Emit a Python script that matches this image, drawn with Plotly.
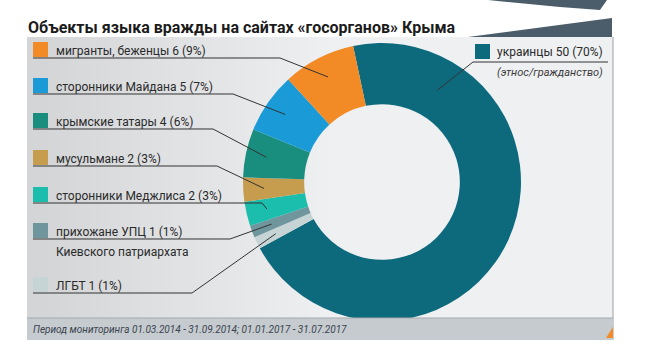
import math
import plotly.graph_objects as go

# ---------------- data ----------------
labels = ["украинцы", "ЛГБТ", "прихожане УПЦ", "сторонники Меджлиса",
          "мусульмане", "крымские татары", "сторонники Майдана", "мигранты, беженцы"]
counts = [50, 1, 1, 2, 2, 4, 5, 6]
percents = [70, 1, 1, 3, 3, 6, 7, 9]
colors = ["#0d6a7d", "#c6d4d6", "#6f959d", "#1bbdac", "#c69c4e",
          "#1a8e7e", "#1a9ad6", "#f28a25"]
extra_lines = {"украинцы": "(этнос/гражданство)", "прихожане УПЦ": "Киевского патриархата"}

title = "Объекты языка вражды на сайтах «госорганов» Крыма"
footer = "Период мониторинга 01.03.2014 - 31.09.2014; 01.01.2017 - 31.07.2017"

# ---------------- layout (pixels) ----------------
W, H = 650, 350
CX, CY, R = 382, 182, 139
HOLE = 0.56
ROT = -12
FONT = "Roboto, Arial, sans-serif"

def X(px):
    return px / W

def Y(py):
    return 1 - py / H

fig = go.Figure()
fig.add_trace(go.Pie(
    labels=labels, values=counts, marker=dict(colors=colors, line=dict(width=0)),
    hole=HOLE, sort=False, direction="clockwise", rotation=ROT,
    textinfo="none", hoverinfo="label+value+percent", showlegend=False,
    domain=dict(x=[X(CX - R), X(CX + R)], y=[Y(CY + R), Y(CY - R)]),
))

shapes = []
annotations = []

# card background with horizontal gradient
c0 = (0xd4, 0xd5, 0xd7)
c1 = (0xee, 0xf0, 0xf2)
card_l, card_r, card_t, card_b = 27, 613, 37, 318
nstrip = 30
grad_end = 340
sw = (grad_end - card_l) / nstrip
for i in range(nstrip):
    t = i / (nstrip - 1)
    col = "rgb(%d,%d,%d)" % tuple(int(c0[k] + (c1[k] - c0[k]) * t) for k in range(3))
    shapes.append(dict(type="rect", xref="paper", yref="paper", layer="below",
                       x0=X(card_l + i * sw), x1=X(card_l + (i + 1) * sw + 1),
                       y0=Y(card_b), y1=Y(card_t), fillcolor=col, line=dict(width=0)))
shapes.append(dict(type="rect", xref="paper", yref="paper", layer="below",
                   x0=X(grad_end), x1=X(card_r), y0=Y(card_b), y1=Y(card_t),
                   fillcolor="rgb(%d,%d,%d)" % c1, line=dict(width=0)))
# right border
shapes.append(dict(type="line", xref="paper", yref="paper", layer="above",
                   x0=X(card_r), x1=X(card_r), y0=Y(340), y1=Y(card_t),
                   line=dict(color="#a9aeb3", width=1.2)))
# footer band
shapes.append(dict(type="rect", xref="paper", yref="paper", layer="above",
                   x0=X(card_l), x1=X(card_r), y0=Y(340), y1=Y(card_b),
                   fillcolor="#c6cbcf", line=dict(width=0)))
shapes.append(dict(type="line", xref="paper", yref="paper", layer="above",
                   x0=X(card_l), x1=X(card_r), y0=Y(card_b), y1=Y(card_b),
                   line=dict(color="#a4a9ae", width=1)))
# small orange corner
shapes.append(dict(type="path", xref="paper", yref="paper", layer="above",
                   path="M %f,%f L %f,%f L %f,%f Z" % (X(606), Y(338), X(613), Y(327), X(613), Y(338)),
                   fillcolor="#f28a25", line=dict(width=0)))
# decorative top wedges
shapes.append(dict(type="path", xref="paper", yref="paper", layer="below",
                   path="M %f,%f L %f,%f L %f,%f L %f,%f Z" % (X(488), Y(0), X(607), Y(0), X(600), Y(10), X(560), Y(7)),
                   fillcolor="#4b5c6a", line=dict(width=0)))
shapes.append(dict(type="path", xref="paper", yref="paper", layer="below",
                   path="M %f,%f L %f,%f L %f,%f Z" % (X(468), Y(37), X(612), Y(18), X(612), Y(37)),
                   fillcolor="#4b5c6a", line=dict(width=0)))

# title and footer
annotations.append(dict(text="<b>%s</b>" % title, x=X(26), y=Y(27), xref="paper", yref="paper",
                        xanchor="left", yanchor="middle", showarrow=False,
                        font=dict(family=FONT, size=16, color="#1b1b1b")))
annotations.append(dict(text="<i>%s</i>" % footer, x=X(31), y=Y(329), xref="paper", yref="paper",
                        xanchor="left", yanchor="middle", showarrow=False,
                        font=dict(family=FONT, size=10, color="#3a4450")))

# slice angles (clockwise from 12 o'clock)
total = sum(counts)
cum = 0
angles = []
for v in counts:
    a0 = ROT + cum * 360 / total
    a1 = ROT + (cum + v) * 360 / total
    angles.append((a0, a1))
    cum += v

# left-hand labels: order from top to bottom, with row y-centres and elbow x
left_order = ["мигранты, беженцы", "сторонники Майдана", "крымские татары", "мусульмане",
              "сторонники Меджлиса", "прихожане УПЦ", "ЛГБТ"]
row_y = [50, 86, 121, 158, 195, 231, 285]
elbow_x = [280, 233, 213, 217, 262, 230, 192]
LEAD_R = 0.85 * R
SQ = 15

for name, ry, ex in zip(left_order, row_y, elbow_x):
    i = labels.index(name)
    a0, a1 = angles[i]
    am = math.radians((a0 + a1) / 2)
    px = CX + LEAD_R * math.sin(am)
    py = CY - LEAD_R * math.cos(am)
    ly = ry + 8
    shapes.append(dict(type="rect", xref="paper", yref="paper", layer="above",
                       x0=X(33), x1=X(33 + SQ), y0=Y(ry - 8 + SQ), y1=Y(ry - 8),
                       fillcolor=colors[i], line=dict(width=0)))
    annotations.append(dict(text="%s %d (%d%%)" % (name, counts[i], percents[i]),
                            x=X(54), y=Y(ry + 1), xref="paper", yref="paper",
                            xanchor="left", yanchor="middle", showarrow=False,
                            font=dict(family=FONT, size=12, color="#2a2a2a")))
    if name in extra_lines:
        annotations.append(dict(text=extra_lines[name], x=X(54), y=Y(ry + 21),
                                xref="paper", yref="paper", xanchor="left", yanchor="middle",
                                showarrow=False, font=dict(family=FONT, size=12, color="#2a2a2a")))
    shapes.append(dict(type="path", xref="paper", yref="paper", layer="above",
                       path="M %f,%f L %f,%f L %f,%f" % (X(33), Y(ly), X(ex), Y(ly), X(px), Y(py)),
                       line=dict(color="#333333", width=1)))

# right-hand label (largest slice)
i = 0
a0, a1 = angles[i]
am = math.radians(a0 + 0.17 * (a1 - a0))
px = CX + 0.77 * R * math.sin(am)
py = CY - 0.77 * R * math.cos(am)
shapes.append(dict(type="rect", xref="paper", yref="paper", layer="above",
                   x0=X(475), x1=X(475 + SQ), y0=Y(44 + SQ), y1=Y(44),
                   fillcolor=colors[i], line=dict(width=0)))
annotations.append(dict(text="%s %d (%d%%)" % (labels[i], counts[i], percents[i]),
                        x=X(495), y=Y(52), xref="paper", yref="paper",
                        xanchor="left", yanchor="middle", showarrow=False,
                        font=dict(family=FONT, size=12, color="#2a2a2a")))
annotations.append(dict(text="<i>%s</i>" % extra_lines[labels[i]], x=X(495), y=Y(72),
                        xref="paper", yref="paper", xanchor="left", yanchor="middle",
                        showarrow=False, font=dict(family=FONT, size=11, color="#3a3a3a")))
shapes.append(dict(type="path", xref="paper", yref="paper", layer="above",
                   path="M %f,%f L %f,%f L %f,%f" % (X(608), Y(62), X(473), Y(62), X(px), Y(py)),
                   line=dict(color="#333333", width=1)))

fig.update_layout(
    width=W, height=H, margin=dict(l=0, r=0, t=0, b=0),
    paper_bgcolor="#ffffff", plot_bgcolor="#ffffff",
    shapes=shapes, annotations=annotations, showlegend=False,
)
fig.write_html("out.html")
